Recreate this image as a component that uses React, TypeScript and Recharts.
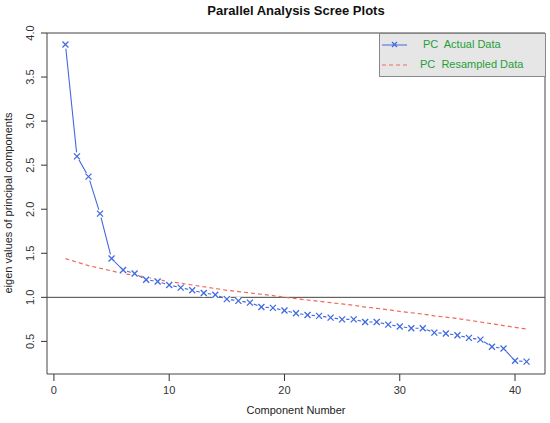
import React from "react";
import { LineChart, Line, XAxis, YAxis, ReferenceLine, ReferenceArea } from "recharts";

const components = [1, 2, 3, 4, 5, 6, 7, 8, 9, 10, 11, 12, 13, 14, 15, 16, 17, 18, 19, 20, 21, 22, 23, 24, 25, 26, 27, 28, 29, 30, 31, 32, 33, 34, 35, 36, 37, 38, 39, 40, 41];

const actualData = [
  3.87, 2.6, 2.37, 1.95, 1.44, 1.31, 1.27, 1.2, 1.18, 1.14, 1.11, 1.08, 1.05, 1.03, 0.98, 0.96, 0.94, 0.89, 0.88, 0.85,
  0.82, 0.8, 0.79, 0.77, 0.75, 0.75, 0.72, 0.72, 0.69, 0.67, 0.65, 0.65, 0.6, 0.59, 0.57, 0.54, 0.52, 0.44, 0.42, 0.28, 0.27,
];

const resampledData = [
  1.44, 1.4, 1.36, 1.33, 1.3, 1.27, 1.25, 1.23, 1.2, 1.18, 1.16, 1.14, 1.12, 1.1, 1.08, 1.065, 1.05, 1.035, 1.02, 1.0,
  0.985, 0.97, 0.955, 0.94, 0.925, 0.91, 0.89, 0.875, 0.86, 0.84, 0.825, 0.81, 0.79, 0.775, 0.76, 0.74, 0.72, 0.7, 0.68, 0.66, 0.64,
];

const xTicks = [0, 10, 20, 30, 40];
const yTicks = [0.5, 1, 1.5, 2, 2.5, 3, 3.5, 4];

const rows = components.map((c, i) => ({ comp: c, actual: actualData[i], resampled: resampledData[i] }));

const FONT = "'Liberation Sans', Arial, Helvetica, sans-serif";
const BLUE = "#4169e1";
const RED = "#ee6a5a";
const GREEN = "#1f9e3a";

// R type="b": white disc leaves a gap in the line round each point
const XMarker = (props: any) => {
  const { cx, cy } = props;
  if (cx == null || cy == null) return null;
  return (
    <g>
      <circle cx={cx} cy={cy} r={4.2} fill="#fff" />
      <line x1={cx - 3} y1={cy - 3} x2={cx + 3} y2={cy + 3} stroke={BLUE} strokeWidth={1.3} />
      <line x1={cx - 3} y1={cy + 3} x2={cx + 3} y2={cy - 3} stroke={BLUE} strokeWidth={1.3} />
    </g>
  );
};

const YTick = (props: any) => {
  const { y, payload } = props;
  const bx = 34;
  const label = Number(payload.value).toFixed(1);
  return (
    <text x={bx} y={y} transform={`rotate(-90 ${bx} ${y})`} textAnchor="middle" fontSize={11} fill="#333" fontFamily={FONT}>
      {label}
    </text>
  );
};

export default function App() {
  return (
    <div style={{ position: "absolute", left: 0, top: 0, width: 550, height: 423, background: "#fff", fontFamily: FONT }}>
      <LineChart width={550} height={423} data={rows} margin={{ top: 33, right: 5, bottom: 0, left: 0 }}>
        <XAxis
          dataKey="comp"
          type="number"
          domain={[-0.6, 42.6]}
          ticks={xTicks}
          allowDataOverflow
          axisLine={false}
          tickLine={{ stroke: "#333" }}
          tickSize={7}
          tickMargin={5}
          height={49}
          tick={{ fontSize: 11, fill: "#333", fontFamily: FONT }}
        />
        <YAxis
          type="number"
          domain={[0.13, 4.0]}
          ticks={yTicks}
          allowDataOverflow
          axisLine={false}
          tickLine={{ stroke: "#333" }}
          tickSize={6}
          width={47}
          tick={<YTick />}
        />
        <ReferenceArea x1={-0.6} x2={42.6} y1={0.13} y2={4.0} fill="none" stroke="#444" strokeWidth={1} />
        <ReferenceLine y={1} stroke="#444" strokeWidth={1} />
        <Line
          dataKey="actual"
          type="linear"
          stroke={BLUE}
          strokeWidth={1.1}
          dot={<XMarker />}
          activeDot={false}
          isAnimationActive={false}
        />
        <Line
          dataKey="resampled"
          type="linear"
          stroke={RED}
          strokeWidth={1.2}
          strokeDasharray="4 3"
          dot={false}
          activeDot={false}
          isAnimationActive={false}
        />
      </LineChart>

      <div style={{ position: "absolute", left: 0, width: 592, top: 3, textAlign: "center", fontSize: 13, fontWeight: "bold", color: "#111" }}>
        Parallel Analysis Scree Plots
      </div>
      <div style={{ position: "absolute", left: 0, width: 592, top: 404, textAlign: "center", fontSize: 11, color: "#222" }}>
        Component Number
      </div>
      <div
        style={{
          position: "absolute",
          left: 8,
          top: 203,
          transform: "translate(-50%, -50%) rotate(-90deg)",
          whiteSpace: "nowrap",
          fontSize: 11,
          color: "#222",
        }}
      >
        eigen values of principal components
      </div>

      <div
        style={{
          position: "absolute",
          left: 379,
          top: 33,
          width: 165,
          height: 42,
          background: "#e6e6e6",
          border: "1px solid #888",
          fontSize: 11,
          color: GREEN,
        }}
      >
        <svg width={30} height={42} style={{ position: "absolute", left: 0, top: 0 }}>
          <line x1={2} y1={11} x2={27} y2={11} stroke={BLUE} strokeWidth={1} />
          <line x1={12} y1={8} x2={17} y2={13} stroke={BLUE} strokeWidth={1.3} />
          <line x1={12} y1={13} x2={17} y2={8} stroke={BLUE} strokeWidth={1.3} />
          <line x1={2} y1={31} x2={27} y2={31} stroke={RED} strokeWidth={1.2} strokeDasharray="4 3" />
        </svg>
        <div style={{ position: "absolute", left: 43, top: 4, whiteSpace: "pre" }}>PC  Actual Data</div>
        <div style={{ position: "absolute", left: 40, top: 24, whiteSpace: "pre" }}>PC  Resampled Data</div>
      </div>
    </div>
  );
}
